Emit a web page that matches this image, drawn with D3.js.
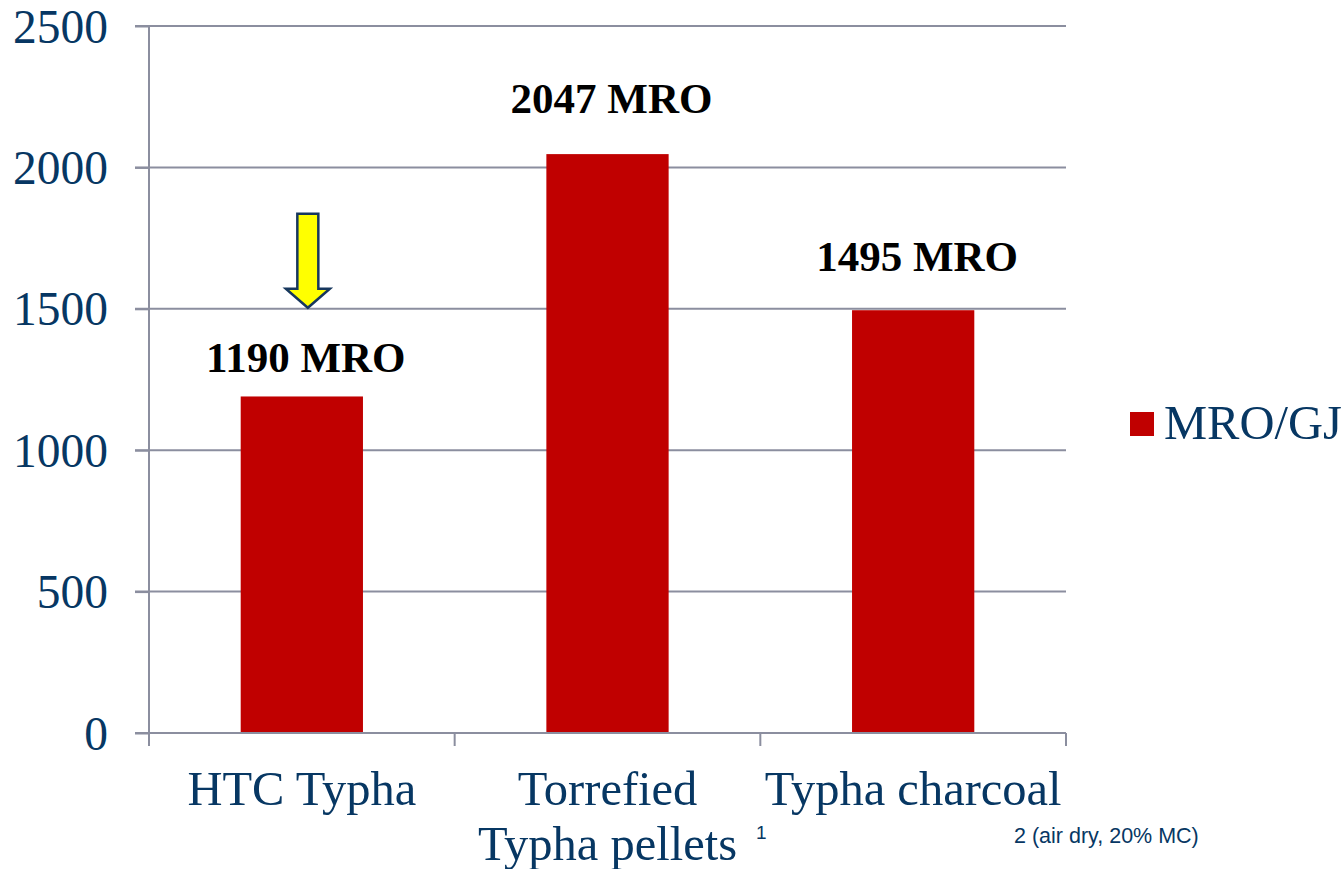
<!DOCTYPE html>
<html>
<head>
<meta charset="utf-8">
<script src="https://cdn.jsdelivr.net/npm/d3@7"></script>
<style>
  html, body { margin: 0; padding: 0; background: #fff; }
  svg { display: block; }
</style>
</head>
<body>
<svg id="chart" width="1344" height="869"></svg>
<script>
const categories = ["HTC Typha", "Torrefied Typha pellets", "Typha charcoal"];
const categoryLines = [["HTC Typha"], ["Torrefied", "Typha pellets"], ["Typha charcoal"]];
const values = [1190, 2047, 1495];
const valueLabels = ["1190 MRO", "2047 MRO", "1495 MRO"];
const yTicks = [0, 500, 1000, 1500, 2000, 2500];
const seriesName = "MRO/GJ";
const footnote1 = "1";
const footnote2 = "2 (air dry, 20% MC)";

(function () {
const textColor = "#073763";
const axisColor = "#8B8E9F";
const barColor = "#C00000";
const serif = "'Liberation Serif', 'Times New Roman', serif";
const sans = "'Liberation Sans', Arial, sans-serif";

const svg = d3.select("#chart");
const pLeft = 149, pRight = 1066, pTop = 26, pBottom = 733;

const x = d3.scaleBand().domain(categories).range([pLeft, pRight]).paddingInner(0.6).paddingOuter(0.3);
const y = d3.scaleLinear().domain([0, 2500]).range([pBottom, pTop]);

// gridlines
svg.append("g").selectAll("line").data(yTicks).join("line")
  .attr("x1", pLeft - 14).attr("x2", pRight)
  .attr("y1", d => y(d)).attr("y2", d => y(d))
  .attr("stroke", axisColor).attr("stroke-width", 2);

// y axis
const yAxis = svg.append("g").attr("transform", `translate(${pLeft},0)`)
  .call(d3.axisLeft(y).tickValues(yTicks).tickSize(14).tickPadding(27).tickFormat(d3.format("d")));
yAxis.select(".domain").attr("stroke", axisColor).attr("stroke-width", 2).attr("d", `M0,${pTop}V${pBottom}`);
yAxis.selectAll(".tick line").attr("stroke", axisColor).attr("stroke-width", 2);
yAxis.selectAll(".tick text").attr("fill", textColor).attr("font-family", serif).attr("font-size", 47.5).attr("dy", "0.34em");

// bars
svg.append("g").selectAll("rect").data(values).join("rect")
  .attr("x", (d, i) => x(categories[i]))
  .attr("width", x.bandwidth())
  .attr("y", d => y(d))
  .attr("height", d => y(0) - y(d))
  .attr("fill", barColor);

// x axis
const step = x.step();
const boundaries = [0, 1, 2, 3].map(i => pLeft + i * step);
svg.append("line").attr("x1", pLeft).attr("x2", pRight).attr("y1", pBottom).attr("y2", pBottom)
  .attr("stroke", axisColor).attr("stroke-width", 2);
svg.append("g").selectAll("line").data(boundaries).join("line")
  .attr("x1", d => d).attr("x2", d => d).attr("y1", pBottom).attr("y2", pBottom + 13)
  .attr("stroke", axisColor).attr("stroke-width", 2);

// category labels
categoryLines.forEach((lines, i) => {
  const cx = x(categories[i]) + x.bandwidth() / 2;
  lines.forEach((ln, j) => {
    svg.append("text").attr("x", cx).attr("y", 805 + j * 55)
      .attr("text-anchor", "middle").attr("fill", textColor)
      .attr("font-family", serif).attr("font-size", 48.5).text(ln);
  });
});

// footnotes
svg.append("text").attr("x", 756).attr("y", 839).attr("fill", textColor)
  .attr("font-family", sans).attr("font-size", 19).text(footnote1);
svg.append("text").attr("x", 1014).attr("y", 843).attr("fill", textColor)
  .attr("font-family", sans).attr("font-size", 21.5).text(footnote2);

// value labels
const labelGaps = [24, 41, 39];
svg.append("g").selectAll("text").data(values).join("text")
  .attr("x", (d, i) => x(categories[i]) + x.bandwidth() / 2 + 4)
  .attr("y", (d, i) => y(d) - labelGaps[i])
  .attr("text-anchor", "middle").attr("fill", "#000")
  .attr("font-family", serif).attr("font-weight", "bold").attr("font-size", 43)
  .text((d, i) => valueLabels[i]);

// arrow over first bar
const ax = x(categories[0]) + x.bandwidth() / 2 + 6;
const tipY = y(1500) - 1, topY = y(1836);
const sw = 10.5, hw = 22, hh = 19;
svg.append("path")
  .attr("d", `M${ax - sw},${topY} L${ax + sw},${topY} L${ax + sw},${tipY - hh} L${ax + hw},${tipY - hh} L${ax},${tipY} L${ax - hw},${tipY - hh} L${ax - sw},${tipY - hh} Z`)
  .attr("fill", "#FFFF00").attr("stroke", "#17375E").attr("stroke-width", 2.5).attr("stroke-linejoin", "miter");

// legend
svg.append("rect").attr("x", 1130).attr("y", 412).attr("width", 24).attr("height", 24).attr("fill", barColor);
svg.append("text").attr("x", 1164).attr("y", 439).attr("fill", textColor)
  .attr("font-family", serif).attr("font-size", 48.5).text(seriesName);
})();
</script>
</body>
</html>
